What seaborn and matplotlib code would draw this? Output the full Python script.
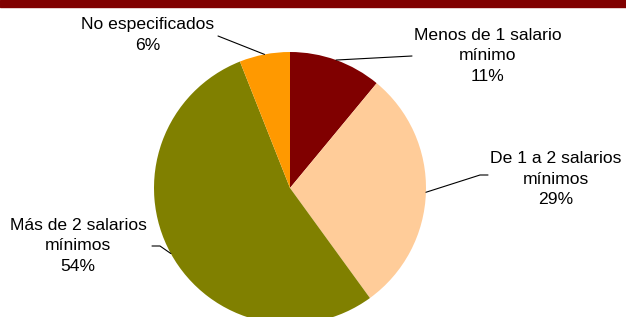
import numpy as np
import matplotlib
matplotlib.use("Agg")
import matplotlib.pyplot as plt
import seaborn as sns

# Distribución por nivel de ingreso
categorias = ["Menos de 1 salario\nmínimo", "De 1 a 2 salarios\nmínimos",
              "Más de 2 salarios\nmínimos", "No especificados"]
porcentajes = [11, 29, 54, 6]
colores = ["#800000", "#FFCC99", "#808000", "#FF9900"]

sns.set_theme(style="white")
plt.rcParams['font.family'] = ['Liberation Sans', 'DejaVu Sans']

W, H = 626, 317
cx, cy, R = 290, 188, 136  # pie centre/radius in pixels

fig = plt.figure(figsize=(W / 100, H / 100), dpi=100)
ax = fig.add_axes([0, 0, 1, 1])

wedges, _ = ax.pie(porcentajes, colors=colores, startangle=90, counterclock=False,
                   radius=1, center=(0, 0), wedgeprops=dict(linewidth=0))

ax.set_xlim(-cx / R, (W - cx) / R)
ax.set_ylim(-(H - cy) / R, cy / R)
ax.set_aspect('auto')
ax.axis('off')


def px(x, y):
    # pixel position -> data coordinates
    return (x - cx) / R, (cy - y) / R


# top border
fig.patches.append(plt.Rectangle((0, 1 - 7 / H), 1, 7 / H, transform=fig.transFigure,
                                 color="#800000", zorder=5))

# label text positions (pixels) and leader elbows
text_pos = [(488, 56), (556, 179), (78, 246), (148, 35)]
elbows = [[(412, 56)], [(480, 175), (488, 175)], [(160, 246), (152, 246)], [(218, 36)]]

for w, cat, pct, tp, elb in zip(wedges, categorias, porcentajes, text_pos, elbows):
    ang = np.deg2rad((w.theta1 + w.theta2) / 2)
    x0, y0 = np.cos(ang), np.sin(ang)
    pts = [(x0, y0)] + [px(*e) for e in elb]
    xs, ys = zip(*pts)
    ax.plot(xs, ys, color="black", lw=0.8)
    tx, ty = px(*tp)
    ax.text(tx, ty, f"{cat}\n{pct}%", ha="center", va="center", fontsize=12.6,
            linespacing=1.42, color="black")

fig.savefig("out.png", dpi=100)
